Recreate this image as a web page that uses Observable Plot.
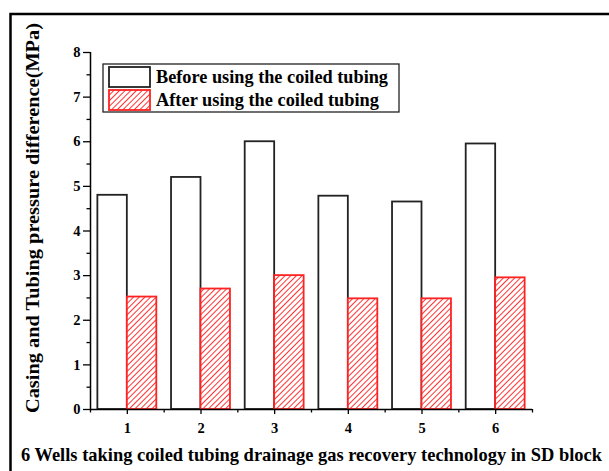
<!DOCTYPE html>
<html><head>
<meta charset="utf-8">
<script src="https://cdn.jsdelivr.net/npm/d3@7"></script>
<script src="https://cdn.jsdelivr.net/npm/@observablehq/plot@0.6"></script>
<style>body{margin:0;background:#fff} svg{font-family:"Liberation Serif",serif}</style>
</head><body><div id="c"></div>
<script>
const wells = [1, 2, 3, 4, 5, 6];
const before = [4.8, 5.2, 6.0, 4.78, 4.65, 5.95];
const after = [2.52, 2.7, 3.0, 2.48, 2.48, 2.95];
const seriesNames = ["Before using the coiled tubing", "After using the coiled tubing"];
const yTicks = [0, 1, 2, 3, 4, 5, 6, 7, 8];
const xTitle = "6 Wells taking coiled tubing drainage gas recovery technology in SD block";
const yTitle = "Casing and Tubing pressure difference(MPa)";

const rows = wells.map((w, i) => ({well: w, before: before[i], after: after[i]}));
const W = 609, H = 471;
const blank = () => "";
const plot = Plot.plot({
  width: W, height: H,
  marginLeft: 90, marginRight: 77, marginTop: 52, marginBottom: 62,
  x: {domain: [0.5, 6.5]},
  y: {domain: [0, 8]},
  style: {fontFamily: "Liberation Serif", fontWeight: "bold", fontSize: "14.5px", color: "#000", background: "#fff", overflow: "visible"},
  marks: [
    Plot.rectY(rows, {x1: d => d.well - 0.4, x2: d => d.well, y: "before", fill: "white", stroke: "#222", strokeWidth: 1.8}),
    Plot.rectY(rows, {x1: "well", x2: d => d.well + 0.4, y: "after", fill: "url(#hatch)", stroke: "#f22", strokeWidth: 1.8}),
    Plot.axisY({ticks: yTicks, tickSize: 7, tickPadding: 3, tickFormat: "d", label: null, strokeOpacity: 1, strokeWidth: 1.3}),
    Plot.axisY({ticks: d3.range(0.5, 8, 1), tickSize: 3.5, tickFormat: blank, label: null, strokeOpacity: 1, strokeWidth: 1.3}),
    Plot.axisX({ticks: wells, tickSize: 5, tickPadding: 8, tickFormat: "d", label: null, strokeOpacity: 1, strokeWidth: 1.3}),
    Plot.axisX({ticks: d3.range(0.5, 7, 1), tickSize: 3.5, tickFormat: blank, label: null, strokeOpacity: 1, strokeWidth: 1.3}),
    Plot.ruleX([0.5], {y1: 0, y2: 8, strokeWidth: 1.5}),
    Plot.ruleY([0], {strokeWidth: 1.5})
  ]
});
document.getElementById("c").appendChild(plot);

const svg = d3.select(plot);
const defs = svg.insert("defs", ":first-child");
const P = 4;
const pat = defs.append("pattern").attr("id", "hatch").attr("patternUnits", "userSpaceOnUse")
  .attr("width", P).attr("height", P).attr("patternTransform", "rotate(45)");
pat.append("rect").attr("width", P).attr("height", P).attr("fill", "white");
pat.append("line").attr("x1", 0.5).attr("y1", 0).attr("x2", 0.5).attr("y2", P).attr("stroke", "#f33").attr("stroke-width", 1);

// figure frame
svg.append("path").attr("d", `M10.5,${H} V14 H${W}`).attr("fill", "none").attr("stroke", "#000").attr("stroke-width", 2.5);

// legend
const lg = svg.append("g").attr("font-family", "Liberation Serif").attr("font-weight", "bold").attr("font-size", 19).attr("text-anchor", "start");
lg.append("rect").attr("x", 103).attr("y", 64).attr("width", 296).attr("height", 48).attr("fill", "white").attr("stroke", "#222").attr("stroke-width", 1.3);
lg.append("rect").attr("x", 109).attr("y", 67).attr("width", 41).attr("height", 20).attr("fill", "white").attr("stroke", "#222").attr("stroke-width", 1.8);
lg.append("rect").attr("x", 109).attr("y", 90).attr("width", 41).attr("height", 20).attr("fill", "url(#hatch)").attr("stroke", "#f22").attr("stroke-width", 1.8);
lg.append("text").attr("x", 156).attr("y", 83).attr("textLength", 232).attr("lengthAdjust", "spacingAndGlyphs").text(seriesNames[0]);
lg.append("text").attr("x", 156).attr("y", 106).attr("textLength", 223).attr("lengthAdjust", "spacingAndGlyphs").text(seriesNames[1]);

// titles
svg.append("text").attr("transform", "translate(39,413) rotate(-90)").attr("text-anchor", "start")
  .attr("font-family", "Liberation Serif").attr("font-weight", "bold").attr("font-size", 19)
  .attr("textLength", 390).attr("lengthAdjust", "spacingAndGlyphs").text(yTitle);
svg.append("text").attr("x", 21).attr("y", 461).attr("text-anchor", "start")
  .attr("font-family", "Liberation Serif").attr("font-weight", "bold").attr("font-size", 18.3)
  .attr("textLength", 581).attr("lengthAdjust", "spacingAndGlyphs").text(xTitle);
</script>
</body></html>
